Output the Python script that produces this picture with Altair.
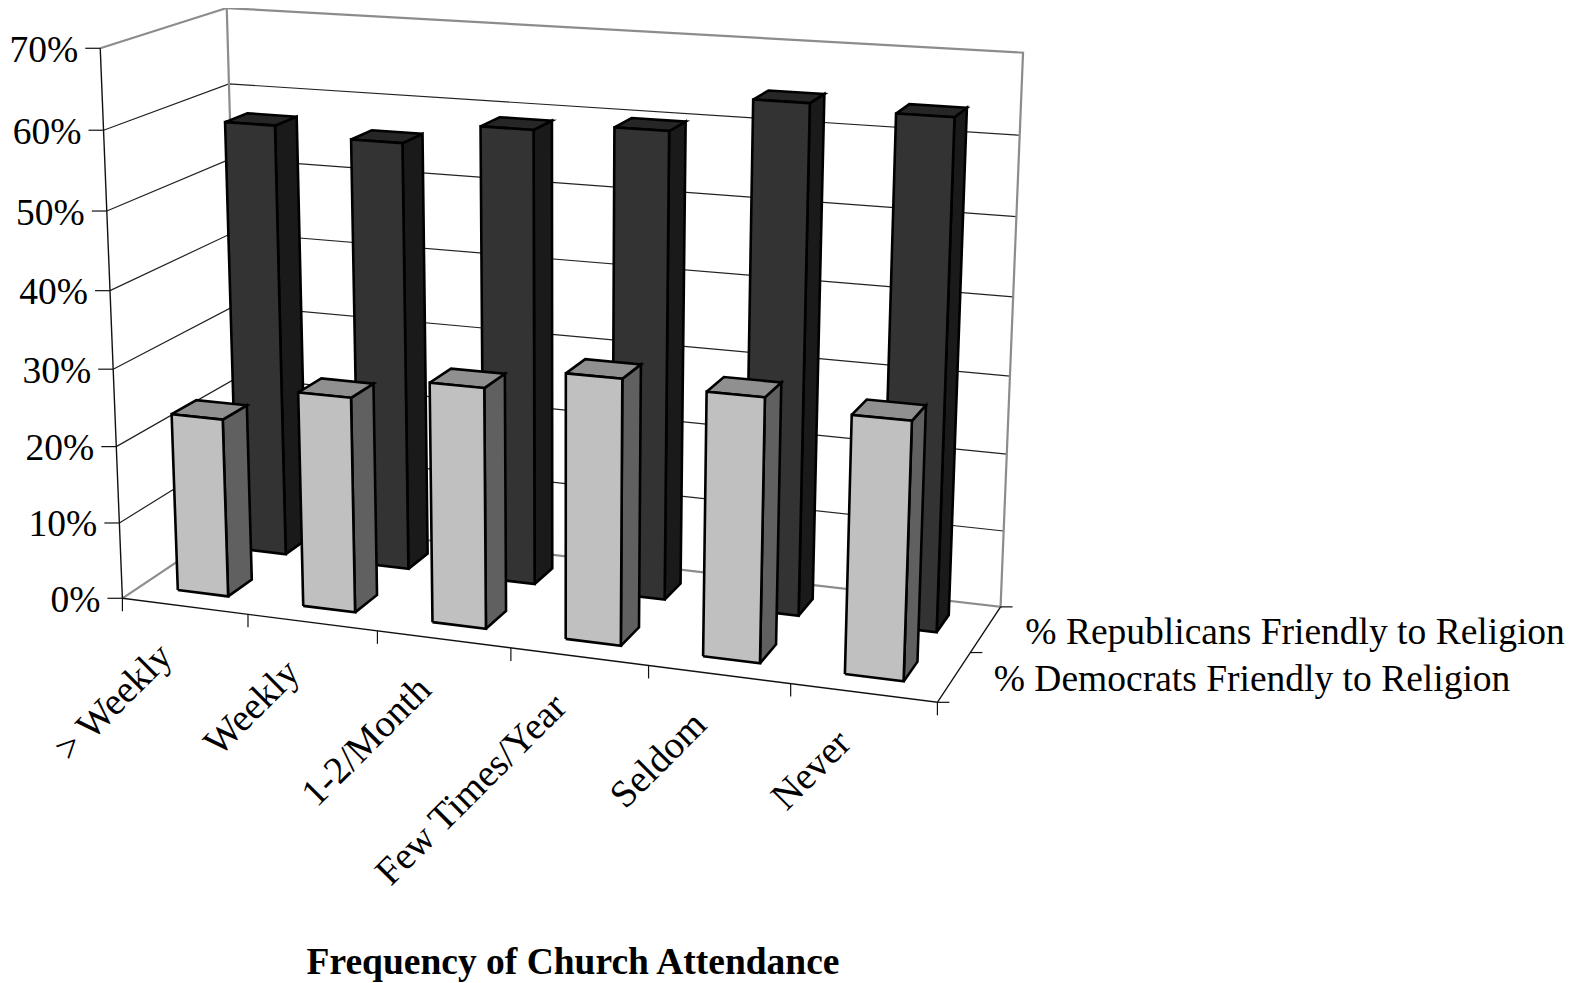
import numpy as np
import pandas as pd
import altair as alt

# values
categories = ["> Weekly", "Weekly", "1-2/Month", "Few Times/Year", "Seldom", "Never"]
democrats = [23.3, 27.8, 30.7, 33.5, 32.9, 31.8]
republicans = [57.3, 56.2, 59, 60, 64.5, 63.9]
y_ticks = [0, 10, 20, 30, 40, 50, 60, 70]
y_labels = ["0%", "10%", "20%", "30%", "40%", "50%", "60%", "70%"]
series_names = ["% Democrats Friendly to Religion", "% Republicans Friendly to Religion"]
axis_title = "Frequency of Church Attendance"

W, H = 1567, 975
FONT = "Liberation Serif"
FS = 37.5

# camera: calibrate a projection of the chart box (cat, pct, depth) -> page position
box_3d = [(0, 0, 0), (0, 70, 0), (0, 70, 1), (0, 0, 1), (6, 70, 1), (6, 0, 1), (6, 0, 0)]
box_2d = [(123, 597), (100, 48), (227, 8), (241, 520), (1023, 53), (1001, 605), (937, 704)]
A = []
for (X, Y, Z), (u, v) in zip(box_3d, box_2d):
    A.append([X, Y, Z, 1, 0, 0, 0, 0, -u * X, -u * Y, -u * Z, -u])
    A.append([0, 0, 0, 0, X, Y, Z, 1, -v * X, -v * Y, -v * Z, -v])
P = np.linalg.svd(np.array(A, float))[2][-1].reshape(3, 4)


def proj(x, y, z):
    p = P @ np.array([x, y, z, 1.0])
    return float(p[0] / p[2]), float(p[1] / p[2])


def polyrows(name, pts):
    return [{"g": name, "k": i, "px": proj(*q)[0], "py": proj(*q)[1]} for i, q in enumerate(pts)]


x_enc = alt.X("px:Q", scale=alt.Scale(domain=[8, 8 + W], nice=False, zero=False), axis=None)
y_enc = alt.Y("py:Q", scale=alt.Scale(domain=[8 + H, 8], nice=False, zero=False), axis=None)


def lines(rows, **mk):
    return alt.Chart(pd.DataFrame(rows)).mark_line(clip=False, **mk).encode(
        x=x_enc, y=y_enc, detail="g:N", order="k:Q")


def bars(values, x0, x1, z0, z1, colors):
    layers = {"front": [], "side": [], "top": []}
    for i, v in enumerate(values):
        a, b = i + x0, i + x1
        layers["front"] += polyrows(f"f{i}", [(a, 0, z0), (b, 0, z0), (b, v, z0), (a, v, z0), (a, 0, z0)])
        layers["side"] += polyrows(f"s{i}", [(b, 0, z0), (b, 0, z1), (b, v, z1), (b, v, z0), (b, 0, z0)])
        layers["top"] += polyrows(f"t{i}", [(a, v, z0), (b, v, z0), (b, v, z1), (a, v, z1), (a, v, z0)])
    return [lines(layers[k], fill=colors[k], stroke="black", strokeWidth=2.6, strokeJoin="miter")
            for k in ("side", "top", "front")]


grid, edge, axis_lines = [], [], []
for t in y_ticks[1:-1]:
    grid += polyrows(f"l{t}", [(0, t, 0), (0, t, 1), (6, t, 1)])
edge += polyrows("top", [(0, 70, 0), (0, 70, 1), (6, 70, 1), (6, 0, 1), (0, 0, 1), (0, 0, 0)])
edge += polyrows("lb", [(0, 70, 1), (0, 0, 1)])
axis_lines += polyrows("yax", [(0, 0, 0), (0, 70, 0)])
axis_lines += polyrows("xax", [(0, 0, 0), (6, 0, 0), (6, 0, 1)])

ticks = []
for t in y_ticks:
    u, v = proj(0, t, 0)
    ticks += [{"g": f"yt{t}", "k": 0, "px": u - 15, "py": v}, {"g": f"yt{t}", "k": 1, "px": u, "py": v}]
for i in range(7):
    u, v = proj(i, 0, 0)
    ticks += [{"g": f"xt{i}", "k": 0, "px": u, "py": v}, {"g": f"xt{i}", "k": 1, "px": u, "py": v + 13}]
for z in (0, 0.5, 1):
    u, v = proj(6, 0, z)
    ticks += [{"g": f"zt{z}", "k": 0, "px": u, "py": v}, {"g": f"zt{z}", "k": 1, "px": u + 12, "py": v}]

ylab = pd.DataFrame([{"px": proj(0, t, 0)[0] - 22, "py": proj(0, t, 0)[1] + 2.5, "t": s}
                     for t, s in zip(y_ticks, y_labels)])
xlab = pd.DataFrame([{"px": proj(i + 0.5, 0, 0)[0] - 19, "py": proj(i + 0.5, 0, 0)[1] + 44, "t": c}
                     for i, c in enumerate(categories)])
leg_rows = []
for z, s in zip((0.25, 0.75), series_names):
    u, v = proj(6, 0, z)
    leg_rows.append({"px": u + 39.5, "py": v + 3.5, "t": s})
leg = pd.DataFrame(leg_rows)
ttl = pd.DataFrame([{"px": 573, "py": 963, "t": axis_title}])


def text(df, size=FS, **mk):
    return alt.Chart(df).mark_text(font=FONT, fontSize=size, color="black", **mk).encode(
        x=x_enc, y=y_enc, text="t:N")


layers = [
    lines(grid, color="#222222", strokeWidth=1.2),
    lines(edge, color="#8c8c8c", strokeWidth=2.2),
    lines(axis_lines, color="#111111", strokeWidth=1.4),
    lines(ticks, color="#111111", strokeWidth=1.2),
]
layers += bars(republicans, 0.29, 0.69, 0.66, 0.85, {"front": "#333333", "side": "#1a1a1a", "top": "#262626"})
layers += bars(democrats, 0.295, 0.70, 0.15, 0.35, {"front": "#c0c0c0", "side": "#606060", "top": "#909090"})
layers += [
    text(ylab, align="right", baseline="middle"),
    text(xlab, size=38.5, align="right", baseline="middle", angle=315),
    text(leg, align="left", baseline="middle"),
    text(ttl, align="center", baseline="middle", fontWeight="bold"),
]

chart = alt.layer(*layers).properties(
    width=W, height=H, padding=0, autosize=alt.AutoSizeParams(type="none")
).configure_view(stroke=None)
chart.save("out.html", embed_options={"renderer": "svg", "actions": False})
